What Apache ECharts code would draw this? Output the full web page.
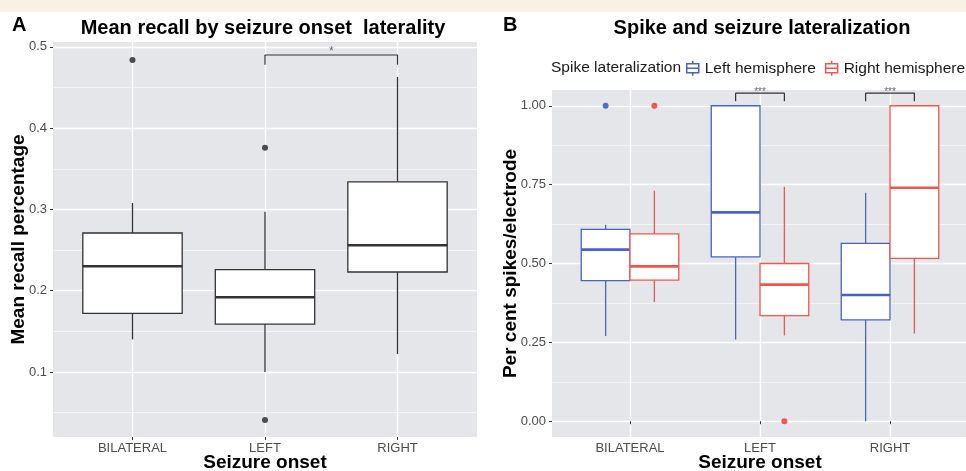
<!DOCTYPE html>
<html>
<head>
<meta charset="utf-8">
<script src="https://cdn.jsdelivr.net/npm/echarts@6/dist/echarts.min.js"></script>
<style>
  html, body { margin: 0; padding: 0; background: #fff; }
  #chart { width: 966px; height: 471px; }
</style>
</head>
<body>
<div id="chart"></div>
<script>
// categories on the x axis of both panels
const onsetCats = ['BILATERAL', 'LEFT', 'RIGHT'];
const catPos = [1, 2, 3];

// panel A: [lower whisker, Q1, median, Q3, upper whisker]
const recallBox = [
  [0.140, 0.172, 0.230, 0.271, 0.308],
  [0.100, 0.159, 0.192, 0.226, 0.297],
  [0.122, 0.223, 0.256, 0.334, 0.463]
];
const recallOutliers = [[1, 0.484], [2, 0.376], [2, 0.041]];
const recallTicks = [0.1, 0.2, 0.3, 0.4, 0.5];
const recallMinor = [0.05, 0.15, 0.25, 0.35, 0.45];

// panel B
const leftHemBox = [
  [0.270, 0.446, 0.544, 0.608, 0.623],
  [0.259, 0.521, 0.662, 1.000, 1.000],
  [0.000, 0.321, 0.400, 0.564, 0.724]
];
const rightHemBox = [
  [0.378, 0.447, 0.491, 0.594, 0.731],
  [0.272, 0.335, 0.433, 0.500, 0.743],
  [0.278, 0.516, 0.740, 1.000, 1.000]
];
const leftHemOutliers = [[1, 1.0]];
const rightHemOutliers = [[1, 1.0], [2, 0.0]];
const spikeTicks = [0, 0.25, 0.5, 0.75, 1.0];
const spikeMinor = [0.125, 0.375, 0.625, 0.875];

// significance brackets
const bracketA = [[2, 0.478], [2, 0.490], [3, 0.490], [3, 0.478]];
const starsA = [[2.5, 0.494]];
const bracketB1 = [[1.8125, 1.014], [1.8125, 1.040], [2.1875, 1.040], [2.1875, 1.014]];
const bracketB2 = [[2.8125, 1.014], [2.8125, 1.040], [3.1875, 1.040], [3.1875, 1.014]];
const starsB = [[2, 1.044], [3, 1.044]];

const FONT = '"Liberation Sans", Arial, Helvetica, sans-serif';
const BLUE = '#4862c6';
const RED = '#f0564c';
const DODGE = 0.1875;

function boxData(rows, shift) {
  return rows.map((r, i) => [catPos[i] + shift].concat(r));
}
function shiftPts(pts, shift) {
  return pts.map(p => [p[0] + shift, p[1]]);
}

function boxItem(width, color) {
  return function (params, api) {
    const x = api.value(0);
    const lo = api.coord([x, api.value(1)]);
    const q1 = api.coord([x, api.value(2)]);
    const med = api.coord([x, api.value(3)]);
    const q3 = api.coord([x, api.value(4)]);
    const hi = api.coord([x, api.value(5)]);
    const hw = api.size([width, 0])[0] / 2;
    const cx = lo[0];
    const st = {stroke: color, lineWidth: 1.3};
    return {
      type: 'group',
      children: [
        {type: 'line', shape: {x1: cx, y1: hi[1], x2: cx, y2: q3[1]}, style: st},
        {type: 'line', shape: {x1: cx, y1: q1[1], x2: cx, y2: lo[1]}, style: st},
        {type: 'rect', shape: {x: cx - hw, y: q3[1], width: 2 * hw, height: q1[1] - q3[1]},
          style: {fill: '#fff', stroke: color, lineWidth: 1.3}},
        {type: 'line', shape: {x1: cx - hw, y1: med[1], x2: cx + hw, y2: med[1]},
          style: {stroke: color, lineWidth: 2.6}}
      ]
    };
  };
}

function xAxisFor(gridIndex) {
  return {
    type: 'value', gridIndex: gridIndex, min: 0.4, max: 3.6,
    axisLine: {show: false},
    axisTick: {show: true, customValues: catPos, length: 3, lineStyle: {color: '#333'}},
    axisLabel: {
      customValues: catPos, margin: 5, color: '#4d4d4d', fontSize: 13, fontFamily: FONT,
      formatter: v => onsetCats[Math.round(v) - 1]
    },
    splitLine: {show: true, lineStyle: {color: '#fff', width: 1.4}},
    name: 'Seizure onset', nameLocation: 'middle', nameGap: 16, nameMoveOverlap: false,
    nameTextStyle: {fontSize: 19, fontWeight: 'bold', color: '#000', fontFamily: FONT}
  };
}

function yMajor(gridIndex, min, max, ticks, fmt, name, gap) {
  return {
    type: 'value', gridIndex: gridIndex, min: min, max: max,
    axisLine: {show: false},
    axisTick: {show: true, customValues: ticks, length: 3, lineStyle: {color: '#333'}},
    axisLabel: {customValues: ticks, margin: 6, color: '#4d4d4d', fontSize: 13, fontFamily: FONT, formatter: fmt},
    splitLine: {show: true, lineStyle: {color: '#fff', width: 1.4}},
    name: name, nameLocation: 'middle', nameGap: gap, nameMoveOverlap: false,
    nameTextStyle: {fontSize: 19, fontWeight: 'bold', color: '#000', fontFamily: FONT}
  };
}

function yMinor(gridIndex, min, max, ticks) {
  return {
    type: 'value', gridIndex: gridIndex, min: min, max: max, position: 'left',
    axisLine: {show: false},
    axisTick: {show: false, customValues: ticks},
    axisLabel: {show: false, customValues: ticks},
    splitLine: {show: true, lineStyle: {color: '#fff', width: 0.6}}
  };
}

const chart = echarts.init(document.getElementById('chart'), null, {renderer: 'canvas'});

const option = {
  animation: false,
  backgroundColor: '#fff',
  textStyle: {fontFamily: FONT},
  graphic: [
    {type: 'rect', left: 0, top: 0, shape: {width: 966, height: 12}, style: {fill: '#f7f2e4'}, z: -1},
    {type: 'text', left: 12, top: 15, style: {text: 'A', font: 'bold 20px ' + FONT, fill: '#000'}},
    {type: 'text', left: 503, top: 15, style: {text: 'B', font: 'bold 20px ' + FONT, fill: '#000'}},
    {type: 'text', left: 551, top: 60, style: {text: 'Spike lateralization', font: '15.5px ' + FONT, fill: '#1a1a1a'}}
  ],
  title: [
    {text: 'Mean recall by seizure onset  laterality', left: 258, top: 13, textAlign: 'center',
      textStyle: {fontSize: 20, fontWeight: 'bold', color: '#000', fontFamily: FONT}},
    {text: 'Spike and seizure lateralization', left: 757, top: 13, textAlign: 'center',
      textStyle: {fontSize: 20, fontWeight: 'bold', color: '#000', fontFamily: FONT}}
  ],
  legend: {
    left: 686, top: 60, padding: 0, itemGap: 9, itemWidth: 14, itemHeight: 15,
    textStyle: {fontSize: 15.5, color: '#1a1a1a', fontFamily: FONT},
    data: [
      {name: 'Left hemisphere', icon: 'path://M7,0V3M7,12V15M1,3H13V12H1ZM1,7.5H13',
        itemStyle: {color: '#fff', borderColor: BLUE, borderWidth: 1.5}},
      {name: 'Right hemisphere', icon: 'path://M7,0V3M7,12V15M1,3H13V12H1ZM1,7.5H13',
        itemStyle: {color: '#fff', borderColor: RED, borderWidth: 1.5}}
    ]
  },
  grid: [
    {left: 53, top: 42, width: 424, height: 395, show: true, backgroundColor: '#e4e6e9', borderWidth: 0,
      outerBoundsMode: 'none', containLabel: false},
    {left: 552, top: 90, width: 416, height: 347, show: true, backgroundColor: '#e4e6e9', borderWidth: 0,
      outerBoundsMode: 'none', containLabel: false}
  ],
  xAxis: [
    xAxisFor(0),
    xAxisFor(1)
  ],
  yAxis: [
    yMajor(0, 0.02, 0.506, recallTicks, v => v.toFixed(1), 'Mean recall percentage', 25),
    yMinor(0, 0.02, 0.506, recallMinor),
    yMajor(1, -0.05, 1.05, spikeTicks, v => v.toFixed(2), 'Per cent spikes/electrode', 32),
    yMinor(1, -0.05, 1.05, spikeMinor)
  ],
  series: [
    // panel A
    {type: 'custom', name: 'recall', xAxisIndex: 0, yAxisIndex: 0, renderItem: boxItem(0.75, '#333'),
      encode: {x: 0, y: [1, 2, 3, 4, 5]}, data: boxData(recallBox, 0), z: 3},
    {type: 'scatter', xAxisIndex: 0, yAxisIndex: 0, symbolSize: 6, itemStyle: {color: '#222'},
      data: recallOutliers, z: 4},
    {type: 'line', xAxisIndex: 0, yAxisIndex: 0, symbol: 'none', lineStyle: {color: '#333', width: 1.2},
      data: bracketA, z: 4},
    {type: 'scatter', xAxisIndex: 0, yAxisIndex: 0, symbolSize: 0, data: starsA,
      label: {show: true, position: 'inside', formatter: '*', fontSize: 12, color: '#444'}, z: 4},
    // panel B
    {type: 'custom', name: 'Left hemisphere', xAxisIndex: 1, yAxisIndex: 2, renderItem: boxItem(0.375, BLUE),
      itemStyle: {color: BLUE}, encode: {x: 0, y: [1, 2, 3, 4, 5]}, data: boxData(leftHemBox, -DODGE), z: 3},
    {type: 'custom', name: 'Right hemisphere', xAxisIndex: 1, yAxisIndex: 2, renderItem: boxItem(0.375, RED),
      itemStyle: {color: RED}, encode: {x: 0, y: [1, 2, 3, 4, 5]}, data: boxData(rightHemBox, DODGE), z: 3},
    {type: 'scatter', xAxisIndex: 1, yAxisIndex: 2, symbolSize: 6, itemStyle: {color: '#2c50b8'},
      data: shiftPts(leftHemOutliers, -DODGE), z: 4},
    {type: 'scatter', xAxisIndex: 1, yAxisIndex: 2, symbolSize: 6, itemStyle: {color: '#f0302a'},
      data: shiftPts(rightHemOutliers, DODGE), z: 4},
    {type: 'line', xAxisIndex: 1, yAxisIndex: 2, symbol: 'none', lineStyle: {color: '#333', width: 1.2},
      data: bracketB1, z: 4},
    {type: 'line', xAxisIndex: 1, yAxisIndex: 2, symbol: 'none', lineStyle: {color: '#333', width: 1.2},
      data: bracketB2, z: 4},
    {type: 'scatter', xAxisIndex: 1, yAxisIndex: 2, symbolSize: 0, data: starsB,
      label: {show: true, position: 'inside', formatter: '***', fontSize: 10, color: '#444'}, z: 4}
  ]
};

chart.setOption(option);
</script>
</body>
</html>
